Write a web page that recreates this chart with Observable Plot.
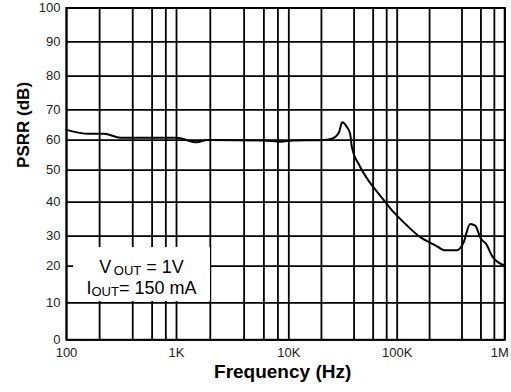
<!DOCTYPE html>
<html><head><meta charset="utf-8">
<script src="https://cdn.jsdelivr.net/npm/d3@7"></script>
<script src="https://cdn.jsdelivr.net/npm/@observablehq/plot@0.6"></script>
<style>
body{margin:0;background:#fff;font-family:"Liberation Sans",Arial,sans-serif}
#wrap{position:relative;width:511px;height:392px}
#legend{position:absolute;left:73px;top:247px;width:137px;height:54px;background:#fff;font-size:18px;line-height:21px;text-align:center;box-sizing:border-box;padding-top:10px;color:#000;white-space:nowrap}
#legend sub{font-size:13px;vertical-align:-2px;line-height:0}
</style></head><body>
<div id="wrap"><div id="legend">V<sub>&#8201;OUT</sub> = 1V<br>I<sub>OUT</sub>= 150 mA</div></div>
<script>
// Frequency (Hz) and PSRR (dB)
const freq = [100, 160, 220, 310, 1000, 1500, 1900, 6000, 8500, 11000, 20000, 25000, 29000, 31000, 34400, 36800, 38200, 45000, 55000, 70000, 90000, 120000, 165000, 204000, 240000, 275000, 356000, 409000, 477000, 531000, 601000, 668000, 767000, 1000000];
const psrr = [63.4, 62.1, 62.1, 60.8, 60.8, 59.3, 60.1, 59.9, 59.5, 59.9, 60.0, 60.5, 62.5, 65.9, 64.3, 62.1, 57.7, 51.5, 46.5, 42.0, 37.5, 33.5, 29.6, 27.8, 26.4, 25.3, 25.3, 27.5, 33.6, 33.1, 29.1, 27.5, 23.2, 20.2];
const yTicks = [0, 10, 20, 30, 40, 50, 60, 70, 80, 90, 100];
const xGrid = [100, 200, 400, 600, 800, 1000, 2000, 4000, 6000, 8000, 10000, 20000, 40000, 60000, 80000, 100000, 200000, 400000, 600000, 800000, 1000000];
const xLabelValues = [100, 1000, 10000, 100000];
const xLabels = ["100", "1K", "10K", "100K"];
const xLastValue = [1000000];
const xLastLabel = ["1M"];
const xTitle = "Frequency (Hz)";
const yTitle = "PSRR (dB)";

const data = freq.map((f, i) => ({f, v: psrr[i]}));

const chart = Plot.plot({
  width: 511,
  height: 392,
  marginLeft: 66,
  marginRight: 6.7,
  marginTop: 7.5,
  marginBottom: 52.7,
  style: {fontFamily: "'Liberation Sans', Arial, sans-serif", fontSize: "13px", color: "#000", background: "#fff"},
  x: {type: "log", domain: [100, 1000, 10000, 100000, 1000000], range: [66, 176, 288.3, 396.7, 504.3], axis: null},
  y: {type: "linear", domain: yTicks, range: [339.3, 302.3, 265.7, 235.7, 201.7, 169.7, 139.7, 109.3, 75.7, 41.3, 7.5], axis: null},
  marks: [
    Plot.ruleX(xGrid, {x: d => d, stroke: "#000", strokeWidth: 1.8}),
    Plot.ruleY(yTicks, {y: d => d, stroke: "#000", strokeWidth: 1.8}),
    Plot.frame({stroke: "#000", strokeWidth: 2}),
    Plot.line(data, {x: "f", y: "v", stroke: "#000", strokeWidth: 2, curve: "monotone-x"}),
    Plot.text(yTicks, {y: d => d, text: d => String(d), frameAnchor: "left", textAnchor: "end", dx: -6, fill: "#222", fontSize: 13}),
    Plot.text(xLabelValues, {x: d => d, text: (d, i) => xLabels[i], frameAnchor: "bottom", dy: 17, fill: "#222", fontSize: 13}),
    Plot.text(xLastValue, {x: d => d, text: (d, i) => xLastLabel[i], frameAnchor: "bottom", dy: 17, dx: 4, textAnchor: "end", fill: "#222", fontSize: 13}),
    Plot.text([xTitle], {text: d => d, frameAnchor: "bottom", dy: 38, dx: -3, fontWeight: "bold", fontSize: 19, fill: "#000"}),
    Plot.text([yTitle], {text: d => d, frameAnchor: "left", rotate: -90, dx: -43, dy: -6, fontWeight: "bold", fontSize: 17, fill: "#000"})
  ]
});
document.getElementById("wrap").prepend(chart);
</script>
</body></html>
